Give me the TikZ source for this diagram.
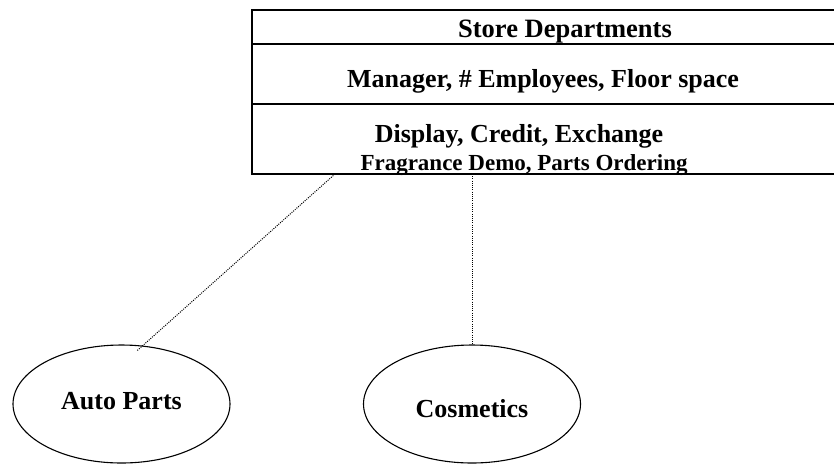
\documentclass[tikz,border=0pt]{standalone}
\usepackage{fontspec}
\setmainfont{Liberation Serif}
\usetikzlibrary{shapes.geometric}

\begin{document}
\begin{tikzpicture}[x=1pt,y=-1pt,
	txt/.style={anchor=base, inner sep=0pt, font=\bfseries\fontsize{26}{30}\selectfont},
	rayon/.style={draw, ellipse, line width=1.1pt, minimum width=217pt, minimum height=118pt, inner sep=0pt, text depth=0pt, font=\bfseries\fontsize{26}{30}\selectfont},
	lien/.style={line width=1pt, dash pattern=on 1pt off 1.2pt}]
	\useasboundingbox (0,0) rectangle (834,464);

	% classe
	\draw[line width=1.6pt] (850,10) -- (252,10) -- (252,174) -- (850,174);
	\foreach \y in {44,104} {
		\draw[line width=1.2pt] (252,\y) -- (850,\y);
	}
	\node[txt, font=\bfseries\fontsize{26.5}{30}\selectfont] (nom) at (565,37) {Store Departments};
	\node[txt] (attr) at (543,87) {Manager, \# Employees, Floor space};
	\node[txt] (op1) at (519,142) {Display, Credit, Exchange};
	\node[txt, font=\bfseries\fontsize{23}{27}\selectfont] (op2) at (524,170) {Fragrance Demo, Parts Ordering};

	% sous-classes
	\node[rayon, text height=10pt] (auto) at (121.5,404) {Auto Parts};
	\node[rayon, text height=27pt] (cosm) at (472,404) {Cosmetics};

	% liens
	\coordinate (piedA) at (335,174);
	\coordinate (piedB) at (472,174);
	\draw[lien, shorten >=-8pt] (piedA) -- (auto.70);
	\draw[lien] (piedB) -- (cosm.north);
\end{tikzpicture}
\end{document}
